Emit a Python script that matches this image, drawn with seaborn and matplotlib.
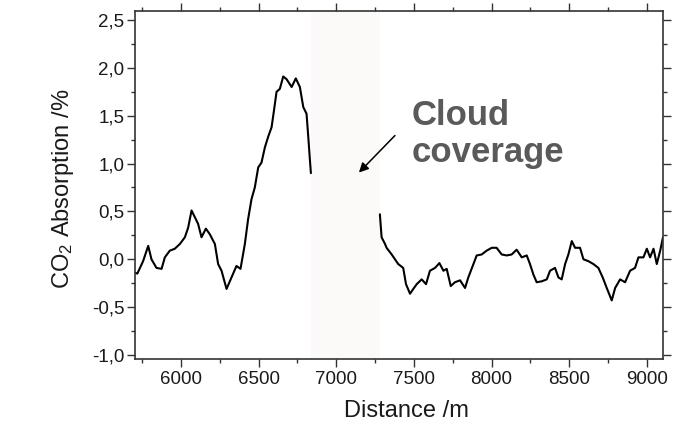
import matplotlib
matplotlib.use("Agg")
import matplotlib.pyplot as plt
import matplotlib.ticker as mticker
import seaborn as sns
import pandas as pd

# ---- data ----
seg1_x = [5704, 5720, 5757, 5790, 5811, 5843, 5876, 5897, 5929, 5961, 5994, 6026,
          6047, 6069, 6090, 6111, 6133, 6161, 6187, 6219, 6240, 6262, 6294, 6326,
          6358, 6384, 6412, 6433, 6455, 6476, 6498, 6519, 6541, 6562, 6584, 6599,
          6616, 6637, 6659, 6681, 6713, 6740, 6766, 6788, 6809, 6820, 6831, 6837]
seg1_y = [-0.14, -0.15, -0.02, 0.14, 0.00, -0.09, -0.10, 0.02, 0.09, 0.11, 0.16, 0.23,
          0.33, 0.51, 0.44, 0.37, 0.23, 0.32, 0.26, 0.16, -0.05, -0.12, -0.31, -0.19,
          -0.07, -0.10, 0.16, 0.42, 0.63, 0.75, 0.96, 1.01, 1.17, 1.28, 1.38, 1.55,
          1.75, 1.78, 1.91, 1.88, 1.80, 1.89, 1.80, 1.59, 1.52, 1.28, 1.03, 0.90]

seg2_x = [7281, 7292, 7314, 7324, 7357, 7399, 7431, 7449, 7475, 7496, 7518, 7550,
          7578, 7603, 7636, 7664, 7690, 7711, 7737, 7764, 7797, 7829, 7850, 7883,
          7904, 7936, 7968, 8001, 8032, 8065, 8097, 8129, 8161, 8194, 8226, 8247,
          8269, 8290, 8323, 8355, 8376, 8408, 8430, 8451, 8473, 8494, 8516, 8537,
          8569, 8591, 8623, 8655, 8687, 8715, 8741, 8773, 8795, 8827, 8859, 8891,
          8923, 8945, 8977, 8999, 9020, 9042, 9063, 9085, 9103]
seg2_y = [0.47, 0.23, 0.16, 0.12, 0.05, -0.05, -0.09, -0.26, -0.36, -0.31, -0.26, -0.21,
          -0.26, -0.12, -0.09, -0.04, -0.12, -0.10, -0.28, -0.24, -0.22, -0.30, -0.19, -0.05,
          0.04, 0.05, 0.09, 0.12, 0.12, 0.05, 0.04, 0.05, 0.10, 0.02, 0.04, -0.05,
          -0.16, -0.24, -0.23, -0.21, -0.12, -0.09, -0.19, -0.21, -0.05, 0.05, 0.19, 0.12,
          0.12, 0.00, -0.02, -0.05, -0.09, -0.19, -0.30, -0.43, -0.30, -0.21, -0.24, -0.12,
          -0.09, 0.02, 0.02, 0.11, 0.02, 0.11, -0.05, 0.09, 0.23]

cloud_span = [6837, 7281]
x_ticks = [6000, 6500, 7000, 7500, 8000, 8500, 9000]
y_ticks = [-1.0, -0.5, 0.0, 0.5, 1.0, 1.5, 2.0, 2.5]
annotation_text = "Cloud\ncoverage"
x_label = "Distance /m"
y_label = "CO$_2$ Absorption /%"

df1 = pd.DataFrame({"x": seg1_x, "y": seg1_y})
df2 = pd.DataFrame({"x": seg2_x, "y": seg2_y})

sns.set_theme(style="ticks")
plt.rcParams["font.family"] = ["Liberation Sans", "DejaVu Sans"]
plt.rcParams["mathtext.fontset"] = "custom"
plt.rcParams["mathtext.rm"] = "Liberation Sans"
plt.rcParams["mathtext.it"] = "Liberation Sans"

fig = plt.figure(figsize=(6.92, 4.24), dpi=100)
ax = fig.add_axes([135 / 692, 1 - 359 / 424, 528 / 692, 348 / 424])

ax.axvspan(cloud_span[0], cloud_span[1], color="#fbfaf8", zorder=0, lw=0)

sns.lineplot(data=df1, x="x", y="y", ax=ax, color="black", lw=1.5, sort=False)
sns.lineplot(data=df2, x="x", y="y", ax=ax, color="black", lw=1.5, sort=False)

ax.set_xlim(5705, 9103)
ax.set_ylim(-1.042, 2.594)
ax.set_xticks(x_ticks)
ax.set_yticks(y_ticks)
ax.xaxis.set_minor_locator(mticker.MultipleLocator(250))
ax.yaxis.set_minor_locator(mticker.MultipleLocator(0.25))
ax.yaxis.set_major_formatter(mticker.FuncFormatter(lambda v, p: f"{v:.1f}".replace(".", ",")))
ax.xaxis.set_major_formatter(mticker.FuncFormatter(lambda v, p: f"{int(v)}"))

for s in ax.spines.values():
    s.set_visible(True)
    s.set_color("#333333")
    s.set_linewidth(1.2)

ax.tick_params(which="both", direction="out", top=True, right=True,
               labeltop=False, labelright=False, color="#333333", width=1.0)
ax.tick_params(which="major", length=5.5)
ax.tick_params(which="minor", length=3)
ax.tick_params(axis="x", which="major", labelsize=13.5, pad=3, labelcolor="#1a1a1a")
ax.tick_params(axis="y", which="major", labelsize=13.5, pad=2, labelcolor="#1a1a1a")

ax.set_xlabel(x_label, fontsize=17, color="#1a1a1a")
ax.set_ylabel(y_label, fontsize=17, color="#1a1a1a")
ax.xaxis.set_label_coords(0.515, -0.118)
ax.xaxis.label.set_va("top")
ax.yaxis.set_label_coords(-0.112, 0.49)

ax.annotate("", xy=(7146, 0.906), xytext=(7378, 1.293),
            arrowprops=dict(arrowstyle="-|>", color="black", lw=1.1,
                            mutation_scale=14, shrinkA=0, shrinkB=0))
ax.text(7487, 1.014, annotation_text, fontsize=25, fontweight="bold",
        color="#5a5a5a", ha="left", va="baseline", linespacing=1.15)

fig.savefig("out.png", dpi=100)
